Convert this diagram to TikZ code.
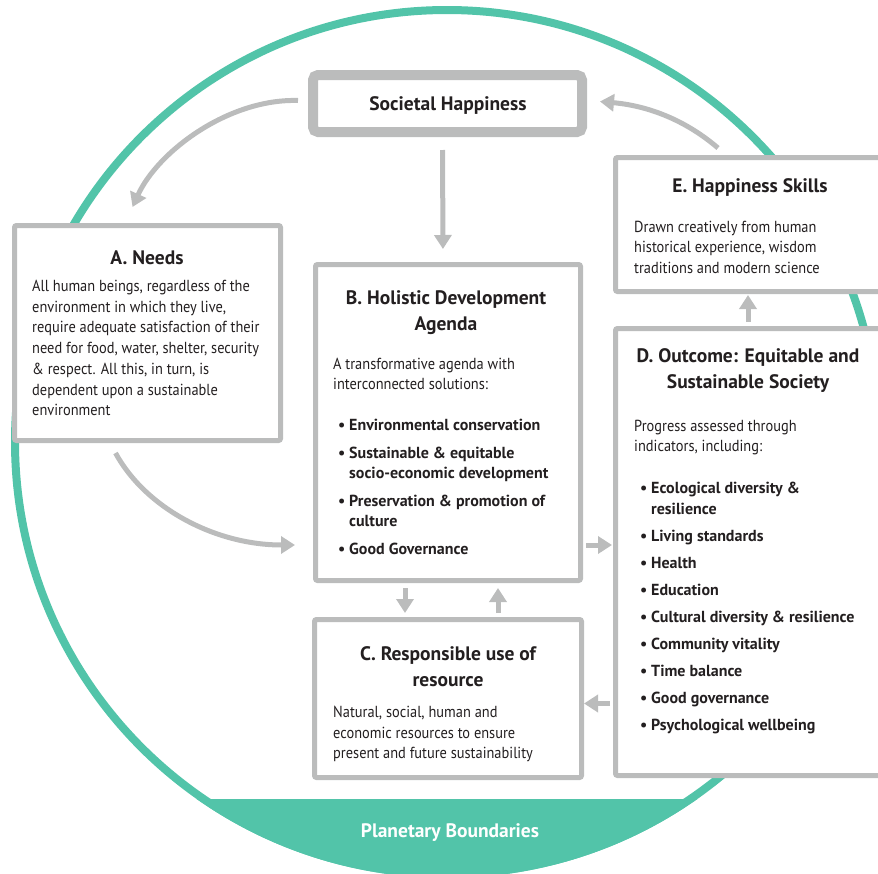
\documentclass[tikz,border=0pt]{standalone}
\usepackage{fontspec}
\setmainfont{PT Sans}
\newfontfamily\lightfont{PT Sans}[FakeStretch=0.9]
\usetikzlibrary{arrows.meta}

\definecolor{ringteal}{HTML}{52C4A9}
\definecolor{boxgray}{HTML}{BBBCBC}
\definecolor{inktext}{HTML}{231F20}

\newcommand{\bodyfont}{\lightfont\fontsize{16}{20.7}\selectfont}
\newcommand{\headfont}{\fontsize{19.5}{26}\selectfont\bfseries}
\newcommand{\itemfont}{\fontsize{16}{20.5}\selectfont\bfseries}
\newcommand{\blt}{\makebox[11pt][l]{\textbullet}}
\newcommand{\ind}{\hspace*{11pt}}

\begin{document}
\begin{tikzpicture}[x=1pt,y=-1pt,
    box/.style={draw=boxgray, line width=5pt, fill=white, rounded corners=2pt, inner sep=0pt},
    arr/.style={draw=boxgray, line width=5pt, -{Triangle[length=14pt,width=17pt]}},
    head/.style={inner sep=0pt, align=center, text=inktext, font=\headfont},
    body/.style={inner sep=0pt, anchor=north west, align=left, text=inktext, font=\bodyfont},
    items/.style={inner sep=0pt, anchor=north west, align=left, text=inktext, font=\itemfont}]
  \useasboundingbox (0,0) rectangle (878,873);
  \clip (0,0) rectangle (878,873);

  % ring and band
  \draw[ringteal, line width=8pt] (447,442) circle [radius=432];
  \begin{scope}
    \clip (0,799) rectangle (878,880);
    \fill[ringteal] (447,442) circle [radius=436];
  \end{scope}
  \node[text=white, font=\fontsize{19.5}{22}\selectfont\bfseries] (planet) at (450,833) {Planetary Boundaries};

  % boxes
  \node[box, line width=10pt, rounded corners=5pt, minimum width=269, minimum height=57] (soc) at (447.5,103.5) {};
  \node[box, minimum width=266, minimum height=215] (needs) at (147.5,333) {};
  \node[box, minimum width=265, minimum height=316] (hol) at (448,422.5) {};
  \node[box, minimum width=267, minimum height=158] (res) at (448,698.5) {};
  \node[box, minimum width=285, minimum height=447] (outc) at (758,552) {};
  \node[box, minimum width=285, minimum height=134] (happy) at (758,224.5) {};

  % arrows
  \draw[arr] ([xshift=-10pt,yshift=3pt]soc.west) .. controls +(-70,-2) and +(25,-55) .. ([xshift=-15pt,yshift=16pt]needs.north);
  \draw[arr] ([xshift=-40pt,yshift=7pt]happy.north) .. controls +(-35,-30) and +(45,4) .. ([xshift=13pt,yshift=2pt]soc.east);
  \draw[arr] ([xshift=-32pt,yshift=-10pt]needs.south) .. controls +(30,55) and +(-80,0) .. ([xshift=-18pt,yshift=38pt]hol.south west);
  \draw[arr, shorten <=13pt, shorten >=13pt] ([xshift=-5pt]soc.south) -- ([xshift=-5pt]hol.north);
  \draw[arr, shorten <=5pt, shorten >=4pt] ([xshift=-43pt]hol.south) -- ([xshift=-43pt]res.north);
  \draw[arr, shorten <=4pt, shorten >=5pt] ([xshift=50pt]res.north) -- ([xshift=50pt]hol.south);
  \coordinate (bd) at ([yshift=38pt]hol.south east);
  \draw[arr, shorten <=3pt, shorten >=1pt] (bd) -- (bd -| outc.west);
  \coordinate (dc) at ([yshift=-5pt]res.east);
  \draw[arr, shorten <=3pt] (dc -| outc.west) -- (dc);
  \draw[arr, shorten <=4pt, shorten >=1pt] ([xshift=-10pt]outc.north) -- ([xshift=-10pt]happy.south);

  % texts
  \node[head] (socT) at (448,105.5) {Societal Happiness};

  \node[head] (needsT) at (147,258) {A. Needs};
  \node[body] (needsB) at (32,280) {All human beings, regardless of the\\
    environment in which they live,\\
    require adequate satisfaction of their\\
    need for food, water, shelter, security\\
    \& respect. All this, in turn, is\\
    dependent upon a sustainable\\
    environment};

  \node[head] (holT) at (446,312.5) {B. Holistic Development\\Agenda};
  \node[body] (holB) at (333,357.5) {A transformative agenda with\\interconnected solutions:};
  \node[items] (holL) at (338,419) {\blt Environmental conservation\\[7pt]
    \blt Sustainable \& equitable\\
    \ind socio-economic development\\[7pt]
    \blt Preservation \& promotion of\\
    \ind culture\\[7pt]
    \blt Good Governance};

  \node[head] (resT) at (448,666.5) {C. Responsible use of\\resource};
  \node[body] (resB) at (333,706) {Natural, social, human and\\
    economic resources to ensure\\
    present and future sustainability};

  \node[head] (outcT) at (748,370.5) {D. Outcome: Equitable and\\Sustainable Society};
  \node[body] (outcB) at (634,419.5) {Progress assessed through\\indicators, including:};
  \node[items] (outcL) at (640,482) {\blt Ecological diversity \&\\
    \ind resilience\\[6.5pt]
    \blt Living standards\\[6.5pt]
    \blt Health\\[6.5pt]
    \blt Education\\[6.5pt]
    \blt Cultural diversity \& resilience\\[6.5pt]
    \blt Community vitality\\[6.5pt]
    \blt Time balance\\[6.5pt]
    \blt Good governance\\[6.5pt]
    \blt Psychological wellbeing};

  \node[head] (happyT) at (750,187) {E. Happiness Skills};
  \node[body] (happyB) at (634,220.5) {Drawn creatively from human\\
    historical experience, wisdom\\
    traditions and modern science};
\end{tikzpicture}
\end{document}
